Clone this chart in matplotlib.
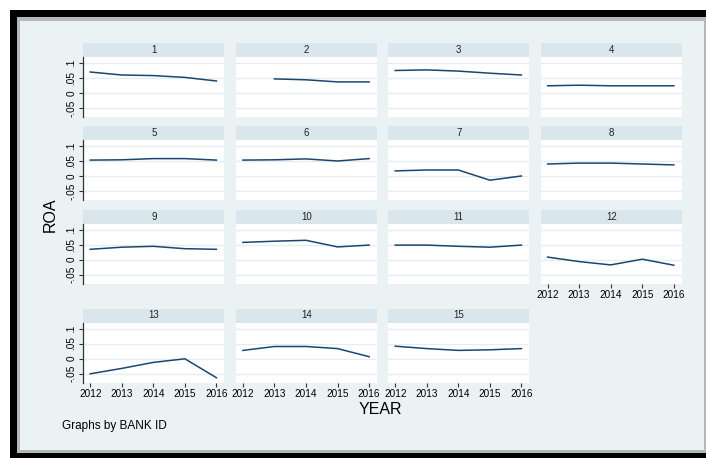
import matplotlib
matplotlib.use("Agg")
import matplotlib.pyplot as plt
from matplotlib.patches import Rectangle
import numpy as np

plt.rcParams['font.family'] = ['Liberation Sans', 'DejaVu Sans']

years = [2012, 2013, 2014, 2015, 2016]
bank_ids = [str(i) for i in range(1, 16)]

roa_1 = [0.070, 0.060, 0.058, 0.052, 0.040]
roa_2 = [np.nan, 0.047, 0.044, 0.037, 0.037]
roa_3 = [0.075, 0.077, 0.073, 0.066, 0.060]
roa_4 = [0.024, 0.026, 0.024, 0.024, 0.024]
roa_5 = [0.053, 0.054, 0.058, 0.058, 0.053]
roa_6 = [0.053, 0.054, 0.057, 0.050, 0.058]
roa_7 = [0.017, 0.020, 0.020, -0.014, 0.000]
roa_8 = [0.040, 0.043, 0.043, 0.040, 0.037]
roa_9 = [0.034, 0.041, 0.044, 0.036, 0.034]
roa_10 = [0.057, 0.061, 0.064, 0.042, 0.048]
roa_11 = [0.048, 0.048, 0.044, 0.041, 0.048]
roa_12 = [0.008, -0.007, -0.018, 0.001, -0.019]
roa_13 = [-0.051, -0.033, -0.013, -0.001, -0.064]
roa_14 = [0.027, 0.040, 0.040, 0.033, 0.006]
roa_15 = [0.041, 0.033, 0.027, 0.029, 0.033]
roa = [roa_1, roa_2, roa_3, roa_4, roa_5, roa_6, roa_7, roa_8,
       roa_9, roa_10, roa_11, roa_12, roa_13, roa_14, roa_15]

y_ticks = [-0.05, 0, 0.05, 0.1]
y_tick_labels = ['-.05', '0', '.05', '.1']

W, H = 706, 458
LINE = '#1A476F'
BG = '#EAF2F3'
HEAD = '#D9E6EB'
GRID = '#E6EDF0'


def box(x, y, w, h):
    # pixel box (top-left origin) -> figure fraction rect
    return [x / W, 1 - (y + h) / H, w / W, h / H]


fig = plt.figure(figsize=(W / 100, H / 100), dpi=100)
fig.patches.append(Rectangle((10 / W, 0), 1, 448 / H, transform=fig.transFigure,
                             facecolor='black', edgecolor='none', zorder=-3))
fig.patches.append(Rectangle((17 / W, 5 / H), 1, 436 / H, transform=fig.transFigure,
                             facecolor='#B4B8BA', edgecolor='none', zorder=-2))
fig.patches.append(Rectangle((20 / W, 8 / H), 684 / W, 429 / H, transform=fig.transFigure,
                             facecolor=BG, edgecolor='none', zorder=-1))

col_x = [83.3, 236, 388.3, 540.7]
row_y = [43, 126, 209.5, 308.5]
pw, ph, hh = 141, 60, 14

for i, vals in enumerate(roa):
    r, c = divmod(i, 4)
    x0, y0 = col_x[c], row_y[r]
    hax = fig.add_axes(box(x0, y0, pw, hh))
    hax.set_facecolor(HEAD)
    hax.set_xticks([])
    hax.set_yticks([])
    for s in hax.spines.values():
        s.set_visible(False)
    hax.text(0.5, 0.5, bank_ids[i], ha='center', va='center', fontsize=7,
             color='#222222', transform=hax.transAxes)

    ax = fig.add_axes(box(x0, y0 + hh, pw, ph))
    ax.plot(years, vals, color=LINE, lw=1.1)
    ax.set_xlim(2011.78, 2016.25)
    ax.set_ylim(-0.08, 0.12)
    ax.set_yticks(y_ticks)
    ax.grid(axis='y', color=GRID, lw=1)
    ax.set_axisbelow(True)
    for s in ['top', 'right', 'bottom']:
        ax.spines[s].set_visible(False)
    ax.spines['left'].set_visible(c == 0)
    ax.spines['left'].set_color('#333333')
    ax.spines['left'].set_linewidth(0.9)
    if c == 0:
        ax.set_yticklabels(y_tick_labels, rotation=90, va='center', fontsize=7.2)
        ax.tick_params(axis='y', length=3, width=0.8, color='#333333', pad=2)
    else:
        ax.tick_params(axis='y', left=False, labelleft=False)
    if i >= 11:
        ax.set_xticks(years)
        ax.set_xticklabels([str(y) for y in years], fontsize=7.2)
        ax.tick_params(axis='x', length=3, width=0.8, color='#333333', pad=2)
    else:
        ax.set_xticks([])

fig.text(50 / W, 1 - 215 / H, 'ROA', rotation=90, ha='center', va='center', fontsize=11.5)
fig.text(380 / W, 1 - 410 / H, 'YEAR', ha='center', va='center', fontsize=11.5)
fig.text(62 / W, 1 - 426 / H, 'Graphs by BANK ID', ha='left', va='center', fontsize=8.5)

fig.savefig('out.png', dpi=100)
